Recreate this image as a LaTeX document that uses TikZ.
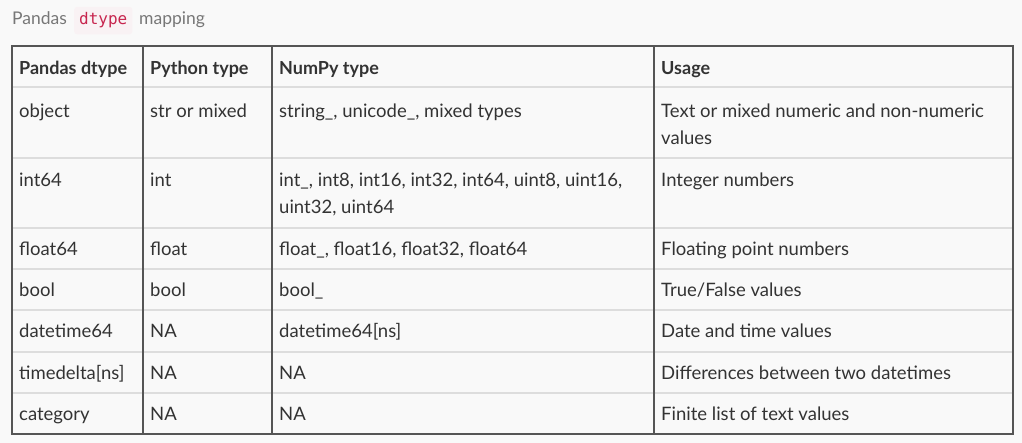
\documentclass[tikz,border=0pt]{standalone}
\usepackage{fontspec}
\setmainfont{Lato}
\newfontfamily\codefont{DejaVu Sans Mono}
\definecolor{bgc}{HTML}{F9F9F9}
\definecolor{textc}{HTML}{333333}
\definecolor{titlec}{HTML}{777777}
\definecolor{codec}{HTML}{C7254E}
\definecolor{codebg}{HTML}{F9F2F4}
\definecolor{darkline}{HTML}{555555}
\definecolor{lightline}{HTML}{DDDDDD}
\newcommand{\tabfont}{\fontsize{18.5}{27.5}\selectfont}
\newcommand{\headfont}{\fontsize{18}{27.5}\selectfont\bfseries}
\begin{document}
\begin{tikzpicture}[x=1pt,y=-1pt,
  cell/.style={anchor=north west, inner sep=0pt, align=left, font=\tabfont, text=textc},
  headcell/.style={cell, font=\headfont},
  rowsep/.style={draw=lightline, line width=2pt},
  colline/.style={draw=darkline, line width=1.4pt},
  titletext/.style={anchor=base west, inner sep=0pt, text=titlec, font=\fontsize{17.5}{22}\selectfont}
]
\fill[bgc] (0,0) rectangle (1022,443);
\useasboundingbox (0,0) rectangle (1022,443);
% title
\node[titletext] (t1) at (12,25) {Pandas};
\node[anchor=base west, inner xsep=5pt, inner ysep=6pt, fill=codebg, rounded corners=3pt, text=codec, font=\codefont\fontsize{16}{18}\selectfont] (t2) at (74,25) {dtype};
\node[titletext] (t3) at (139,25) {mapping};
% row separators
\foreach \yy in {87,158,228,269,310,352,393}
  \draw[rowsep] (12,\yy) -- (1013,\yy);
% outer border and columns
\draw[colline] (12,46) rectangle (1013,434);
\foreach \xx in {143,272,654}
  \draw[colline] (\xx,46) -- (\xx,434);
% header (node top = baseline - 19.25)
\node[headcell] (h1) at (19,54.75) {\strut Pandas dtype};
\node[headcell] (h2) at (150,54.75) {\strut Python type};
\node[headcell] (h3) at (279,54.75) {\strut NumPy type};
\node[headcell] (h4) at (661,54.75) {\strut Usage};
% object
\node[cell] (r1a) at (19,97.75) {\strut object};
\node[cell] (r1b) at (150,97.75) {\strut str or mixed};
\node[cell] (r1c) at (279,97.75) {\strut string\_, unicode\_, mixed types};
\node[cell] (r1d) at (661,97.75) {\strut Text or mixed numeric and non-numeric\\values};
% int64
\node[cell] (r2a) at (19,166.75) {\strut int64};
\node[cell] (r2b) at (150,166.75) {\strut int};
\node[cell] (r2c) at (279,166.75) {\strut int\_, int8, int16, int32, int64, uint8, uint16,\\uint32, uint64};
\node[cell] (r2d) at (661,166.75) {\strut Integer numbers};
% float64
\node[cell] (r3a) at (19,235.75) {\strut float64};
\node[cell] (r3b) at (150,235.75) {\strut float};
\node[cell] (r3c) at (279,235.75) {\strut float\_, float16, float32, float64};
\node[cell] (r3d) at (661,235.75) {\strut Floating point numbers};
% bool
\node[cell] (r4a) at (19,276.75) {\strut bool};
\node[cell] (r4b) at (150,276.75) {\strut bool};
\node[cell] (r4c) at (279,276.75) {\strut bool\_};
\node[cell] (r4d) at (661,276.75) {\strut True/False values};
% datetime64
\node[cell] (r5a) at (19,317.75) {\strut datetime64};
\node[cell] (r5b) at (150,317.75) {\strut NA};
\node[cell] (r5c) at (279,317.75) {\strut datetime64[ns]};
\node[cell] (r5d) at (661,317.75) {\strut Date and time values};
% timedelta
\node[cell] (r6a) at (19,359.75) {\strut timedelta[ns]};
\node[cell] (r6b) at (150,359.75) {\strut NA};
\node[cell] (r6c) at (279,359.75) {\strut NA};
\node[cell] (r6d) at (661,359.75) {\strut Differences between two datetimes};
% category
\node[cell] (r7a) at (19,400.75) {\strut category};
\node[cell] (r7b) at (150,400.75) {\strut NA};
\node[cell] (r7c) at (279,400.75) {\strut NA};
\node[cell] (r7d) at (661,400.75) {\strut Finite list of text values};
\end{tikzpicture}
\end{document}
